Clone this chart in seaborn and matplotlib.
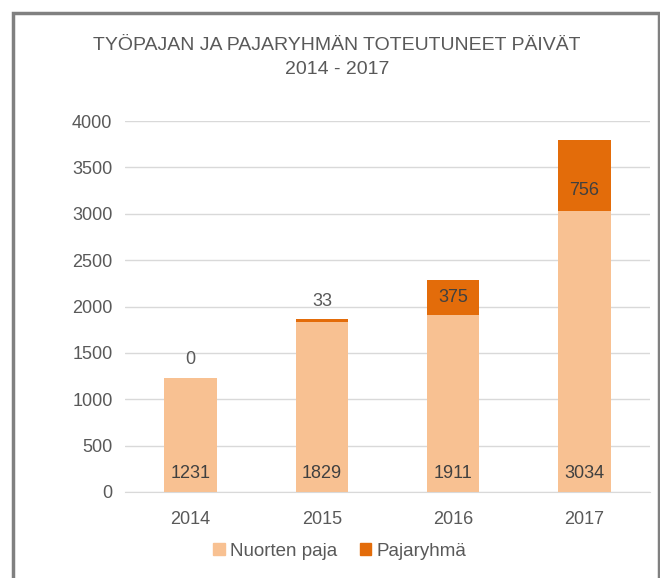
import pandas as pd
import matplotlib.pyplot as plt
import seaborn as sns
from matplotlib.patches import Rectangle, Patch

# data
years = ['2014', '2015', '2016', '2017']
nuorten_paja = [1231, 1829, 1911, 3034]
pajaryhma = [0, 33, 375, 756]

light = '#F8C192'
dark = '#E36C0A'
text_col = '#595959'

sns.set_style('white')
plt.rcParams['font.family'] = ['Liberation Sans Narrow', 'Liberation Sans', 'DejaVu Sans']

df = pd.DataFrame({'Vuosi': years, 'Nuorten paja': nuorten_paja, 'Pajaryhmä': pajaryhma})
df['Yhteensä'] = df['Nuorten paja'] + df['Pajaryhmä']

fig = plt.figure(figsize=(6.6, 5.78), dpi=100)
ax = fig.add_axes([125 / 660, 1 - 492 / 578, 525 / 660, 371 / 578])

# total first (dark), base on top of it (light)
sns.barplot(data=df, x='Vuosi', y='Yhteensä', color=dark, width=0.4,
            saturation=1, linewidth=0, ax=ax, zorder=2)
sns.barplot(data=df, x='Vuosi', y='Nuorten paja', color=light, width=0.4,
            saturation=1, linewidth=0, ax=ax, zorder=3)

ax.set_ylim(0, 4000)
ax.set_yticks(range(0, 4001, 500))
ax.set_xlim(-0.5, 3.5)
ax.yaxis.grid(True, color='#D9D9D9', linewidth=1, zorder=0)
ax.set_axisbelow(True)
for s in ['top', 'right', 'left']:
    ax.spines[s].set_visible(False)
ax.spines['bottom'].set_color('#D9D9D9')
ax.set_xlabel('')
ax.set_ylabel('')
ax.tick_params(axis='both', length=0, labelsize=13, labelcolor=text_col)
ax.tick_params(axis='y', pad=9)
ax.tick_params(axis='x', pad=14)

# value labels (upper segment labels sit a bit below centre in the 2017 bar)
seg_pos = [0.5, 0.5, 0.5, 0.28]
for i in range(len(years)):
    ax.text(i, 200, str(nuorten_paja[i]), ha='center', va='center',
            fontsize=13, color='#404040', zorder=5)
    p = pajaryhma[i]
    if p < 200:
        ax.text(i, nuorten_paja[i] + p + 195, str(p), ha='center', va='center',
                fontsize=13, color=text_col, zorder=5)
    else:
        ax.text(i, nuorten_paja[i] + p * seg_pos[i], str(p), ha='center', va='center',
                fontsize=13, color='#404040', zorder=5)

fig.text(337 / 660, 1 - 45 / 578, 'TYÖPAJAN JA PAJARYHMÄN TOTEUTUNEET PÄIVÄT',
         ha='center', va='center', fontsize=14, color=text_col)
fig.text(337 / 660, 1 - 70 / 578, '2014 - 2017',
         ha='center', va='center', fontsize=14, color=text_col)

handles = [Patch(color=light, label='Nuorten paja'), Patch(color=dark, label='Pajaryhmä')]
fig.legend(handles=handles, loc='center', bbox_to_anchor=(340 / 660, 1 - 551 / 578),
           ncol=2, frameon=False, fontsize=13.5, labelcolor=text_col,
           handlelength=0.6, handleheight=0.6, handletextpad=0.3, columnspacing=1.2)

# chart frame
fig.patches.append(Rectangle((12.5 / 660, -0.05), 646 / 660, 1.05 - 13 / 578,
                             transform=fig.transFigure, fill=False,
                             edgecolor='#808080', linewidth=2.5))

fig.savefig('out.png', dpi=100)
